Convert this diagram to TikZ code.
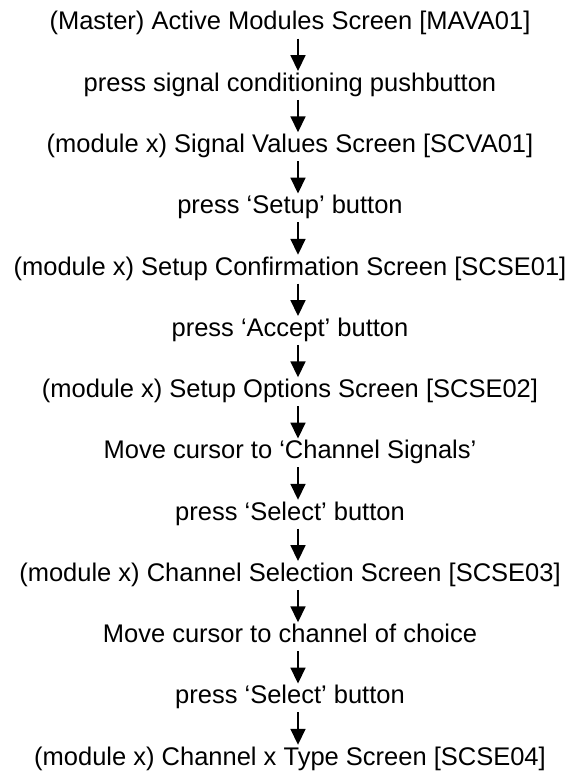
\documentclass[tikz,border=0pt]{standalone}
\usepackage{fontspec}
\setmainfont{Liberation Sans}
\usetikzlibrary{arrows.meta}
\tikzset{
  stepline/.style={anchor=base, inner sep=0pt, text height=20pt, text depth=8.5pt,
    font=\fontsize{25.5pt}{28pt}\selectfont},
  flowarr/.style={line width=1.7pt, -{Triangle[length=16pt,width=15pt]}}
}
\begin{document}
\begin{tikzpicture}[x=1pt,y=1pt]
\useasboundingbox (0,0) rectangle (574,-773);
\coordinate (ax) at (298,0);
\node[stepline] (n1)  at (290,-30)     {(Master) Active Modules Screen [MAVA01]};
\node[stepline] (n2)  at (290,-91.25)  {press signal conditioning pushbutton};
\node[stepline] (n3)  at (290,-152.5)  {(module x) Signal Values Screen [SCVA01]};
\node[stepline] (n4)  at (290,-213.75) {press ‘Setup’ button};
\node[stepline] (n5)  at (290,-275)    {(module x) Setup Confirmation Screen [SCSE01]};
\node[stepline] (n6)  at (290,-336.25) {press ‘Accept’ button};
\node[stepline] (n7)  at (290,-397.5)  {(module x) Setup Options Screen [SCSE02]};
\node[stepline] (n8)  at (290,-458.75) {Move cursor to ‘Channel Signals’};
\node[stepline] (n9)  at (290,-520)    {press ‘Select’ button};
\node[stepline] (n10) at (290,-581.25) {(module x) Channel Selection Screen [SCSE03]};
\node[stepline] (n11) at (290,-642.5)  {Move cursor to channel of choice};
\node[stepline] (n12) at (290,-703.75) {press ‘Select’ button};
\node[stepline] (n13) at (290,-765)    {(module x) Channel x Type Screen [SCSE04]};
\foreach \a/\b in {n1/n2,n2/n3,n3/n4,n4/n5,n5/n6,n6/n7,n7/n8,n8/n9,n9/n10,n10/n11,n11/n12,n12/n13}
  \draw[flowarr] (\a.south -| ax) -- (\b.north -| ax);
\end{tikzpicture}
\end{document}
